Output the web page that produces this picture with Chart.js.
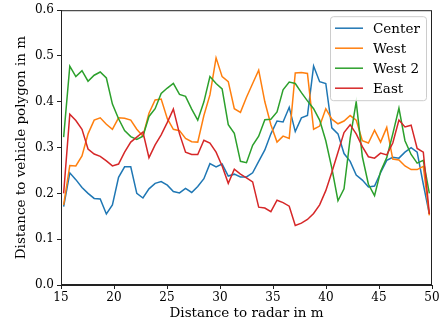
<!DOCTYPE html>
<html>
<head>
<meta charset="utf-8">
<script src="https://cdn.jsdelivr.net/npm/chart.js@4"></script>
<style>
  body { margin: 0; background: #fff; }
  #wrap { width: 445px; height: 326px; }
</style>
</head>
<body>
<div id="wrap"><canvas id="myChart" width="445" height="326"></canvas></div>
<script>
// distance to radar (m) of each sample
const distances = [15.25, 15.83, 16.40, 16.98, 17.55, 18.13, 18.70, 19.28, 19.85, 20.43,
  21.00, 21.58, 22.15, 22.73, 23.30, 23.88, 24.45, 25.03, 25.60, 26.18,
  26.75, 27.33, 27.90, 28.48, 29.05, 29.63, 30.20, 30.78, 31.35, 31.93,
  32.50, 33.08, 33.65, 34.23, 34.80, 35.38, 35.95, 36.53, 37.10, 37.68,
  38.25, 38.83, 39.40, 39.98, 40.55, 41.13, 41.70, 42.28, 42.85, 43.43,
  44.00, 44.58, 45.15, 45.73, 46.30, 46.88, 47.45, 48.03, 48.60, 49.18, 49.75];

const center = [0.171, 0.245, 0.23, 0.213, 0.2, 0.189, 0.188, 0.155, 0.175, 0.235,
  0.258, 0.258, 0.2, 0.19, 0.21, 0.222, 0.226, 0.218, 0.204, 0.201,
  0.211, 0.202, 0.215, 0.232, 0.265, 0.258, 0.264, 0.238, 0.242, 0.236,
  0.236, 0.245, 0.27, 0.295, 0.33, 0.358, 0.356, 0.388, 0.335, 0.365,
  0.37, 0.478, 0.444, 0.44, 0.343, 0.33, 0.287, 0.27, 0.24, 0.229,
  0.214, 0.216, 0.245, 0.272, 0.279, 0.277, 0.29, 0.3, 0.29, 0.22, 0.155];

const west = [0.175, 0.261, 0.26, 0.282, 0.33, 0.36, 0.365, 0.351, 0.34, 0.365,
  0.364, 0.36, 0.34, 0.325, 0.375, 0.404, 0.406, 0.363, 0.34, 0.337,
  0.32, 0.313, 0.312, 0.37, 0.415, 0.496, 0.455, 0.444, 0.385, 0.377,
  0.41, 0.44, 0.469, 0.4, 0.35, 0.312, 0.325, 0.32, 0.463, 0.464,
  0.462, 0.34, 0.347, 0.385, 0.362, 0.352, 0.358, 0.37, 0.36, 0.315,
  0.31, 0.338, 0.312, 0.344, 0.275, 0.273, 0.26, 0.252, 0.252, 0.259, 0.152];

const west2 = [0.323, 0.478, 0.455, 0.468, 0.445, 0.458, 0.465, 0.452, 0.395, 0.363,
  0.337, 0.324, 0.318, 0.325, 0.368, 0.385, 0.418, 0.43, 0.44, 0.416,
  0.412, 0.384, 0.36, 0.4, 0.455, 0.44, 0.428, 0.35, 0.331, 0.27,
  0.267, 0.305, 0.325, 0.361, 0.362, 0.378, 0.426, 0.443, 0.44, 0.42,
  0.402, 0.385, 0.36, 0.315, 0.255, 0.184, 0.21, 0.32, 0.4, 0.28,
  0.22, 0.195, 0.248, 0.278, 0.33, 0.386, 0.315, 0.285, 0.266, 0.272, 0.2];

const east = [0.2, 0.373, 0.359, 0.34, 0.297, 0.286, 0.281, 0.271, 0.26, 0.264,
  0.29, 0.312, 0.323, 0.334, 0.278, 0.306, 0.328, 0.355, 0.384, 0.33,
  0.29, 0.285, 0.285, 0.316, 0.31, 0.29, 0.26, 0.222, 0.253, 0.242,
  0.234, 0.225, 0.17, 0.168, 0.16, 0.185, 0.18, 0.172, 0.13, 0.135,
  0.143, 0.156, 0.175, 0.206, 0.246, 0.29, 0.333, 0.35, 0.33, 0.302,
  0.28, 0.277, 0.288, 0.284, 0.31, 0.36, 0.345, 0.349, 0.298, 0.29, 0.155];

const seriesNames = ["Center", "West", "West 2", "East"];
const seriesColors = ["#1f77b4", "#ff7f0e", "#2ca02c", "#d62728"];
const xTickValues = [15, 20, 25, 30, 35, 40, 45, 50];
const yTickValues = [0, 0.1, 0.2, 0.3, 0.4, 0.5, 0.6];

const FONT = "'DejaVu Serif', serif";

function toPoints(values) {
    return values.map((v, i) => ({ x: distances[i], y: v }));
}

// matplotlib-like frame and legend inside the axes
const framePlugin = {
    id: "frame",
    afterDraw(chart) {
        const { ctx, chartArea: a } = chart;
        ctx.save();
        ctx.strokeStyle = "#222";
        ctx.lineWidth = 1;
        ctx.strokeRect(a.left + 0.5, a.top + 0.5, a.right - a.left - 1, a.bottom - a.top - 1);

        const boxW = 96, boxH = 84;
        const bx = a.right - 6 - boxW, by = a.top + 6;
        ctx.beginPath();
        ctx.roundRect(bx + 0.5, by + 0.5, boxW, boxH, 3);
        ctx.fillStyle = "rgba(255,255,255,0.8)";
        ctx.fill();
        ctx.strokeStyle = "#cccccc";
        ctx.stroke();

        ctx.font = "13.5px " + FONT;
        ctx.textBaseline = "middle";
        seriesNames.forEach((name, i) => {
            const y = by + 12 + i * 20;
            ctx.strokeStyle = seriesColors[i];
            ctx.lineWidth = 1.5;
            ctx.beginPath();
            ctx.moveTo(bx + 5, y);
            ctx.lineTo(bx + 33, y);
            ctx.stroke();
            ctx.fillStyle = "#000";
            ctx.fillText(name, bx + 43, y + 1);
        });
        ctx.restore();
    }
};

const allSeries = [center, west, west2, east];

new Chart(document.getElementById("myChart"), {
    type: "line",
    data: {
        datasets: allSeries.map((vals, i) => ({
            label: seriesNames[i],
            data: toPoints(vals),
            borderColor: seriesColors[i],
            backgroundColor: seriesColors[i],
            borderWidth: 1.5,
            pointRadius: 0,
            tension: 0,
            fill: false,
            order: 3 - i
        }))
    },
    options: {
        responsive: false,
        animation: false,
        devicePixelRatio: 1,
        layout: { padding: { left: 0, top: 8, right: 13, bottom: 0 } },
        plugins: { legend: { display: false }, tooltip: { enabled: false } },
        scales: {
            x: {
                type: "linear",
                min: 15,
                max: 50,
                afterBuildTicks: s => { s.ticks = xTickValues.map(v => ({ value: v })); },
                afterFit: s => { s.height = 41; },
                grid: { drawOnChartArea: false, drawTicks: true, tickLength: 4, color: "#222" },
                border: { color: "#222", width: 1 },
                ticks: { color: "#000", font: { family: FONT, size: 12 }, padding: 2, maxRotation: 0 },
                title: { display: true, text: "Distance to radar in m", color: "#000",
                    font: { family: FONT, size: 13.5 }, padding: { top: 0, bottom: 4 } }
            },
            y: {
                type: "linear",
                min: 0,
                max: 0.6,
                afterBuildTicks: s => { s.ticks = yTickValues.map(v => ({ value: v })); },
                afterFit: s => { s.width = 61; },
                grid: { drawOnChartArea: false, drawTicks: true, tickLength: 4, color: "#222" },
                border: { color: "#222", width: 1 },
                ticks: { color: "#000", font: { family: FONT, size: 12 }, padding: 3,
                    callback: v => v.toFixed(1) },
                title: { display: true, text: "Distance to vehicle polygon in m", color: "#000",
                    font: { family: FONT, size: 13.5 }, padding: { top: 13, bottom: 0 } }
            }
        }
    },
    plugins: [framePlugin]
});
</script>
</body>
</html>
